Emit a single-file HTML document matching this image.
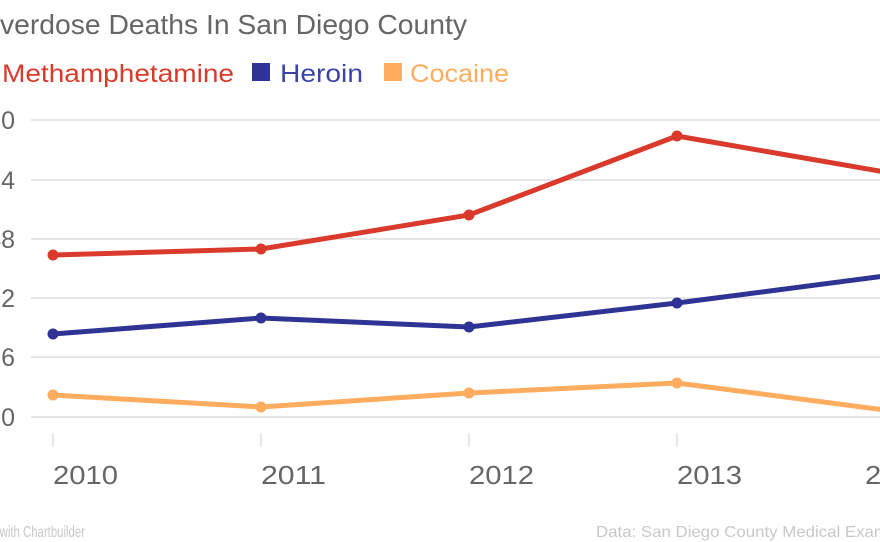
<!DOCTYPE html>
<html><head><style>
html,body{margin:0;padding:0;background:#fff;}
svg{display:block;font-family:"Liberation Sans",sans-serif;}
</style></head><body>
<svg width="880" height="542" viewBox="0 0 880 542">
<text x="-22" y="34" font-size="28" fill="#666" textLength="489" lengthAdjust="spacingAndGlyphs">Overdose Deaths In San Diego County</text>
<text x="2" y="82" font-size="25" fill="#d93a2b" textLength="232" lengthAdjust="spacingAndGlyphs">Methamphetamine</text>
<rect x="252" y="63" width="18" height="18" fill="#2f3394"/>
<text x="280" y="82" font-size="25" fill="#3d44a8" textLength="83" lengthAdjust="spacingAndGlyphs">Heroin</text>
<rect x="384" y="63" width="18" height="18" fill="#ffac5f"/>
<text x="410" y="82" font-size="25" fill="#ffac5f" textLength="99" lengthAdjust="spacingAndGlyphs">Cocaine</text>
<g stroke="#ddd" stroke-width="1.5">
<line x1="31" y1="120" x2="880" y2="120"/><line x1="31" y1="180" x2="880" y2="180"/>
<line x1="31" y1="239" x2="880" y2="239"/><line x1="31" y1="298" x2="880" y2="298"/>
<line x1="31" y1="357" x2="880" y2="357"/><line x1="31" y1="417" x2="880" y2="417"/>
<line x1="53" y1="433" x2="53" y2="447"/><line x1="261" y1="433" x2="261" y2="447"/>
<line x1="469" y1="433" x2="469" y2="447"/><line x1="677" y1="433" x2="677" y2="447"/>
</g>
<g font-size="25" fill="#666" text-anchor="end">
<text x="15" y="129">80</text><text x="15" y="189">64</text><text x="15" y="248">48</text>
<text x="15" y="307">32</text><text x="15" y="366">16</text><text x="15" y="426">0</text>
</g>
<g font-size="26" fill="#666">
<text x="53" y="484" textLength="65" lengthAdjust="spacingAndGlyphs">2010</text>
<text x="261" y="484" textLength="65" lengthAdjust="spacingAndGlyphs">2011</text>
<text x="469" y="484" textLength="65" lengthAdjust="spacingAndGlyphs">2012</text>
<text x="677" y="484" textLength="65" lengthAdjust="spacingAndGlyphs">2013</text>
<text x="865" y="484" textLength="65" lengthAdjust="spacingAndGlyphs">2014</text>
</g>
<polyline points="53,255 261,249 469,215 677,136 885,172" fill="none" stroke="#d93a2b" stroke-width="5"/>
<polyline points="53,334 261,318 469,327 677,303 885,276" fill="none" stroke="#2f3394" stroke-width="5"/>
<polyline points="53,395 261,407 469,393 677,383 885,410" fill="none" stroke="#ffac5f" stroke-width="5"/>
<g fill="#d93a2b"><circle cx="53" cy="255" r="5.5"/><circle cx="261" cy="249" r="5.5"/><circle cx="469" cy="215" r="5.5"/><circle cx="677" cy="136" r="5.5"/></g>
<g fill="#2f3394"><circle cx="53" cy="334" r="5.5"/><circle cx="261" cy="318" r="5.5"/><circle cx="469" cy="327" r="5.5"/><circle cx="677" cy="303" r="5.5"/></g>
<g fill="#ffac5f"><circle cx="53" cy="395" r="5.5"/><circle cx="261" cy="407" r="5.5"/><circle cx="469" cy="393" r="5.5"/><circle cx="677" cy="383" r="5.5"/></g>
<text x="-32" y="537" font-size="16" fill="#c8c8c8" textLength="117" lengthAdjust="spacingAndGlyphs">Made with Chartbuilder</text>
<text x="596" y="537" font-size="16" fill="#c8c8c8" textLength="320" lengthAdjust="spacingAndGlyphs">Data: San Diego County Medical Examiner</text>
</svg>
</body></html>
